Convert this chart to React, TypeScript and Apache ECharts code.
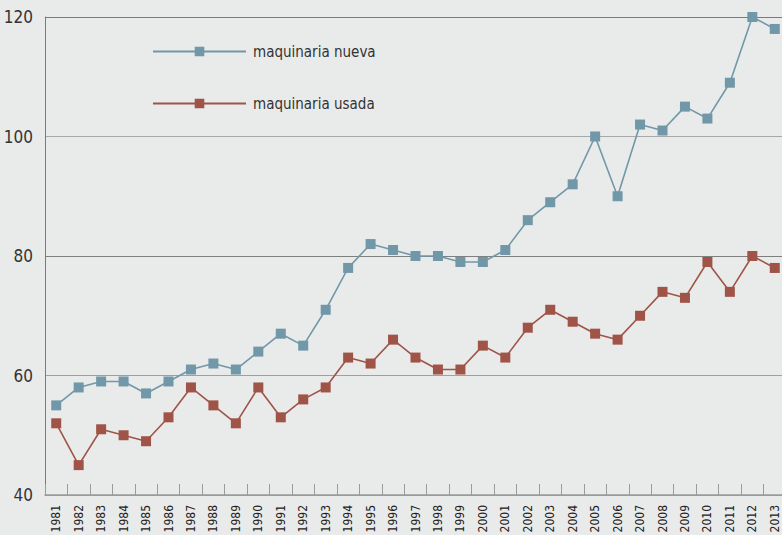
import React, { useEffect, useRef } from "react";
import * as echarts from "echarts";

const years: string[] = [
  "1981", "1982", "1983", "1984", "1985", "1986", "1987", "1988", "1989", "1990",
  "1991", "1992", "1993", "1994", "1995", "1996", "1997", "1998", "1999", "2000",
  "2001", "2002", "2003", "2004", "2005", "2006", "2007", "2008", "2009", "2010",
  "2011", "2012", "2013",
];

const maquinariaNueva: number[] = [
  55, 58, 59, 59, 57, 59, 61, 62, 61, 64,
  67, 65, 71, 78, 82, 81, 80, 80, 79, 79,
  81, 86, 89, 92, 100, 90, 102, 101, 105, 103,
  109, 120, 118,
];

const maquinariaUsada: number[] = [
  52, 45, 51, 50, 49, 53, 58, 55, 52, 58,
  53, 56, 58, 63, 62, 66, 63, 61, 61, 65,
  63, 68, 71, 69, 67, 66, 70, 74, 73, 79,
  74, 80, 78,
];

const seriesNames: string[] = ["maquinaria nueva", "maquinaria usada"];
const seriesColors: string[] = ["#7198a8", "#a05448"];

const FONT = "'Liberation Sans Narrow', 'DejaVu Sans Condensed', 'Noto Sans', sans-serif";

export default function App() {
  const ref = useRef<HTMLDivElement>(null);

  useEffect(() => {
    document.body.style.margin = "0";
    if (!ref.current) return;
    const chart = echarts.init(ref.current, undefined, { renderer: "svg" });
    const legendItemH = 12;
    chart.setOption({
      animation: false,
      backgroundColor: "#e9eaea",
      textStyle: { fontFamily: FONT },
      grid: {
        left: 45,
        top: 17,
        width: 741,
        height: 478,
        containLabel: false,
        outerBoundsMode: "none",
      },
      legend: {
        orient: "vertical",
        left: 152,
        top: 44,
        padding: 0,
        itemWidth: 93,
        itemHeight: legendItemH,
        itemGap: 37,
        textStyle: { fontFamily: FONT, fontSize: 15, color: "#333", padding: [0, 0, 0, 2] },
        data: seriesNames,
      },
      xAxis: {
        type: "category",
        data: years,
        boundaryGap: true,
        axisLine: { show: true, lineStyle: { color: "#9a9a9a", width: 1.5 } },
        axisTick: { show: true, inside: true, length: 11, lineStyle: { color: "#9a9a9a", width: 1 } },
        axisLabel: {
          rotate: 90,
          interval: 0,
          margin: 10,
          fontFamily: FONT,
          fontSize: 12,
          color: "#222",
        },
        splitLine: { show: false },
      },
      yAxis: {
        type: "value",
        min: 40,
        max: 120,
        interval: 20,
        axisLine: { show: true, lineStyle: { color: "#7a7a7a", width: 1 } },
        axisTick: { show: false },
        axisLabel: { margin: 12, fontFamily: FONT, fontSize: 17, color: "#333" },
        splitLine: {
          show: true,
          lineStyle: { color: ["#9a9a9a", "#a0a0a0", "#7f7f7f", "#a8a8a8", "#7a7a7a"], width: 1.2 },
        },
      },
      series: [
        {
          name: seriesNames[0],
          type: "line",
          data: maquinariaNueva,
          symbol: "rect",
          symbolSize: 10,
          color: seriesColors[0],
          lineStyle: { color: seriesColors[0], width: 1.6 },
          itemStyle: { color: seriesColors[0] },
        },
        {
          name: seriesNames[1],
          type: "line",
          data: maquinariaUsada,
          symbol: "rect",
          symbolSize: 10,
          color: seriesColors[1],
          lineStyle: { color: seriesColors[1], width: 1.6 },
          itemStyle: { color: seriesColors[1] },
        },
      ],
    });
    return () => chart.dispose();
  }, []);

  return <div ref={ref} style={{ width: 782, height: 535 }} />;
}
